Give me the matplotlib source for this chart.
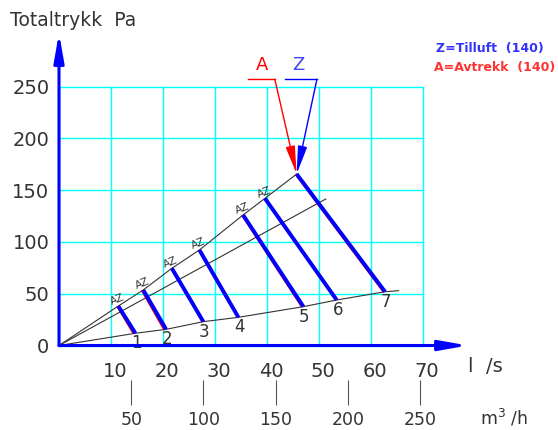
import matplotlib.pyplot as plt
import numpy as np
from matplotlib.transforms import ScaledTranslation

# Data (x: l/s, y: Pa)
x_ticks = [0, 10, 20, 30, 40, 50, 60, 70]
x_labels = ['', '10', '20', '30', '40', '50', '60', '70']
y_ticks = [0, 50, 100, 150, 200, 250]
m3h_ticks = [50, 100, 150, 200, 250]
point_names = ['1', '2', '3', '4', '5', '6', '7']
az_names = ['AZ', 'AZ', 'AZ', 'AZ', 'AZ', 'AZ', '']

# Z (tilluft) lines: top on upper ray, bottom on lower ray
z_top_x = [11.4, 16.2, 21.7, 27.0, 35.4, 39.6, 45.7]
z_top_y = [38.1, 53.6, 74.5, 92.2, 126.0, 142.0, 165.5]
z_bot_x = [14.7, 20.6, 27.75, 34.5, 47.0, 53.4, 62.7]
z_bot_y = [11.8, 15.6, 23.0, 27.2, 37.5, 43.9, 51.9]

# A (avtrekk) lines, almost on top of Z
a_top_x = [11.3, 16.0, 21.7, 27.0, 35.3, 39.6, 45.6]
a_top_y = [38.1, 53.6, 74.5, 92.2, 126.0, 142.0, 165.5]
a_bot_x = [14.4, 20.3, 27.75, 34.5, 46.8, 53.4, 62.5]
a_bot_y = [11.8, 15.6, 23.0, 27.2, 37.5, 43.9, 51.9]

middle_end = (51.3, 141.4)
lower_end = (65.3, 52.9)

blue = '#0000ff'
red = '#ff0000'
grey = '#333333'

fig = plt.figure(figsize=(5.58, 4.30), dpi=100)
ax = fig.add_axes([59 / 558, (430 - 345.5) / 430, 364 / 558, 259 / 430])
ax.set_xlim(0, 70)
ax.set_ylim(0, 250)
for s in ax.spines.values():
    s.set_visible(False)

# grid
ax.set_xticks(x_ticks)
ax.set_xticklabels(x_labels)
ax.set_yticks(y_ticks)
ax.grid(True, color='#00ffff', lw=1.0)
ax.set_axisbelow(True)
for gl in ax.get_xgridlines() + ax.get_ygridlines():
    gl.set_clip_on(False)
ax.tick_params(axis='both', length=0, colors=grey)
ax.tick_params(axis='x', pad=12, labelsize=14)
ax.tick_params(axis='y', pad=7, labelsize=14)
offset = ScaledTranslation(4 / 100, 0, fig.dpi_scale_trans)
for lab in ax.get_xticklabels():
    lab.set_transform(lab.get_transform() + offset)

# m3/h scale under the l/s scale
sec = ax.secondary_xaxis(-0.133, functions=(lambda q: q * 3.6, lambda q: q / 3.6))
sec.set_xticks(m3h_ticks)
sec.spines['bottom'].set_visible(False)
sec.tick_params(axis='x', direction='out', length=18, width=0.8, color='#555555',
                labelcolor=grey, labelsize=12.5, pad=4)

# rays from origin
ax.plot([0] + z_top_x, [0] + z_top_y, color=grey, lw=0.8, zorder=2)
ax.plot([0, middle_end[0]], [0, middle_end[1]], color=grey, lw=0.8, zorder=2)
ax.plot([0] + z_bot_x + [lower_end[0]], [0] + z_bot_y + [lower_end[1]],
        color=grey, lw=0.8, zorder=2)

# A and Z lines
for i in range(len(z_top_x)):
    ax.plot([a_top_x[i], a_bot_x[i]], [a_top_y[i], a_bot_y[i]], color=red, lw=2.2,
            solid_capstyle='butt', zorder=3)
    ax.plot([z_top_x[i], z_bot_x[i]], [z_top_y[i], z_bot_y[i]], color=blue, lw=2.8,
            solid_capstyle='butt', zorder=4)
    if az_names[i]:
        ax.annotate(az_names[i], (z_top_x[i], z_top_y[i]), xytext=(-1, 6),
                    textcoords='offset pixels', ha='center', va='center', fontsize=7.5,
                    rotation=22, color=grey)
    ax.annotate(point_names[i], (z_bot_x[i], z_bot_y[i]), xytext=(1, -10),
                textcoords='offset pixels', ha='center', va='center', fontsize=12,
                color=grey)

# A / Z callouts to the top point
peak = (z_top_x[-1], z_top_y[-1])
ax.plot([36.4, 41.5], [257, 257], color=red, lw=1, clip_on=False)
ax.plot([43.5, 49.6], [257, 257], color=blue, lw=1, clip_on=False)
ax.annotate('', xy=peak, xytext=(41.5, 257), annotation_clip=False,
            arrowprops=dict(arrowstyle='-|>,head_length=1.7,head_width=0.28', color=red,
                            lw=1, mutation_scale=10, shrinkA=0, shrinkB=0))
ax.annotate('', xy=peak, xytext=(49.6, 257), annotation_clip=False,
            arrowprops=dict(arrowstyle='-|>,head_length=1.7,head_width=0.28', color=blue,
                            lw=1, mutation_scale=10, shrinkA=0, shrinkB=0))
ax.text(39.0, 271, 'A', color=red, fontsize=13, ha='center', va='center', clip_on=False)
ax.text(46.0, 271, 'Z', color='#4040ff', fontsize=13, ha='center', va='center', clip_on=False)

# axes with arrows
arrow = dict(arrowstyle='-|>,head_length=1.7,head_width=0.3', color=blue, lw=2.2,
             mutation_scale=10, shrinkA=0, shrinkB=0)
ax.annotate('', xy=(0, 301.6), xytext=(0, 0), arrowprops=arrow, annotation_clip=False)
ax.annotate('', xy=(78.65, 0), xytext=(0, 0), arrowprops=arrow, annotation_clip=False)

# texts
fig.text(10 / 558, 1 - 20 / 430, 'Totaltrykk  Pa', fontsize=13.5, color=grey, va='center')
fig.text(468 / 558, 1 - 366 / 430, 'l  /s', fontsize=14, color=grey, va='center')
fig.text(480 / 558, 1 - 418 / 430, 'm$^3$ /h', fontsize=12.5, color=grey, va='center')
fig.text(436 / 558, 1 - 48.5 / 430, 'Z=Tilluft  (140)', fontsize=9, fontweight='bold',
         color='#3333ff', va='center')
fig.text(434 / 558, 1 - 67.5 / 430, 'A=Avtrekk  (140)', fontsize=9, fontweight='bold',
         color='#ff3333', va='center')

plt.savefig('out.png', dpi=100)
